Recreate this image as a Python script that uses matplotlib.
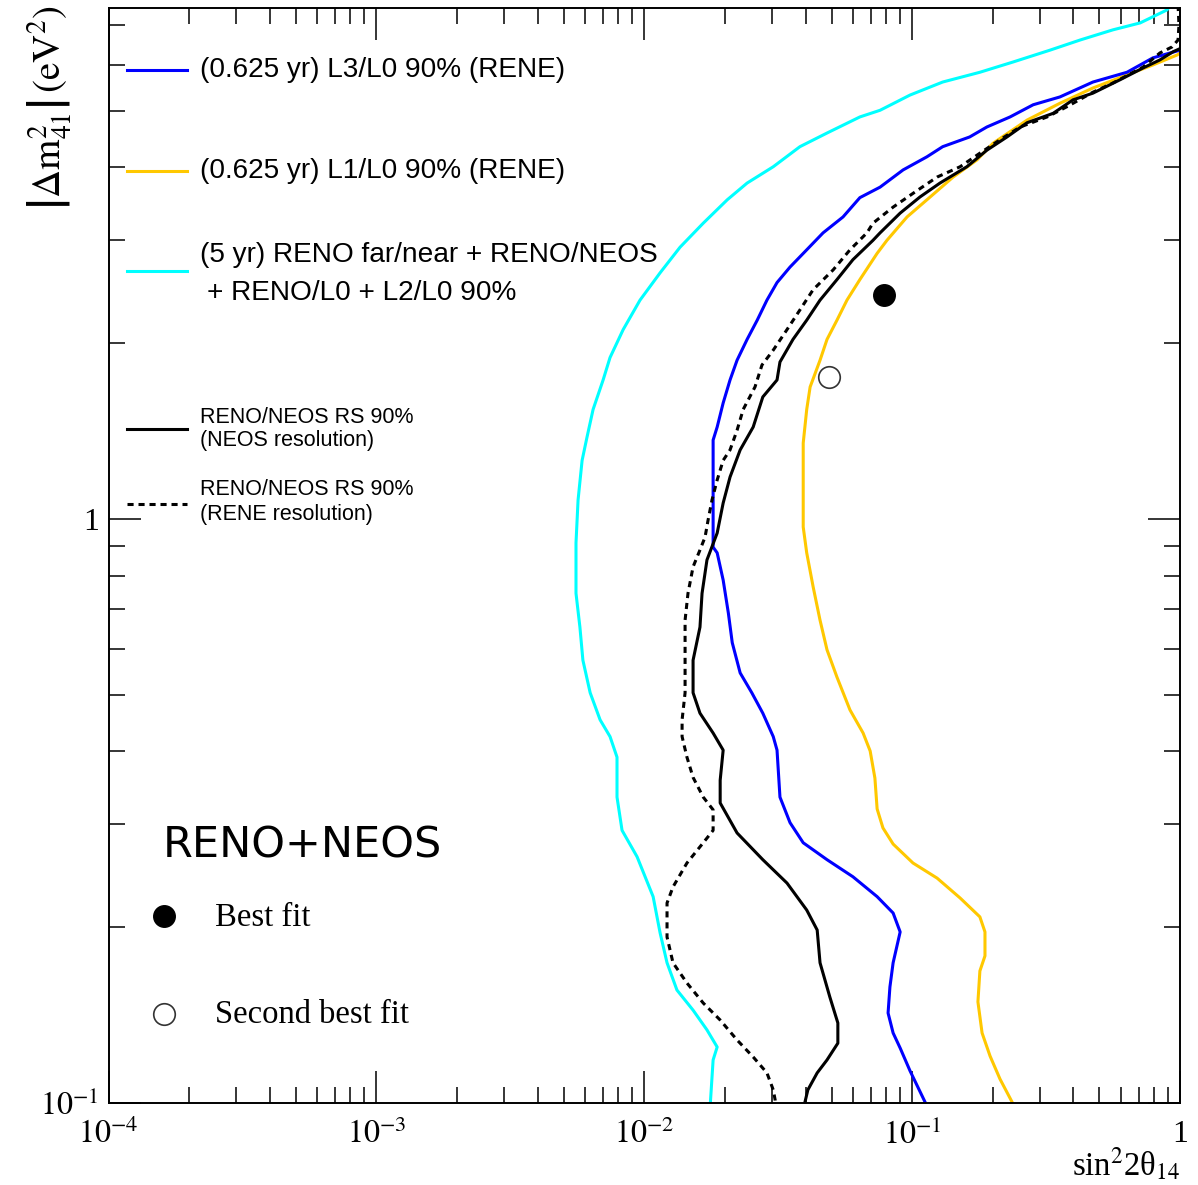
import numpy as np
import matplotlib
matplotlib.use("Agg")
import matplotlib.pyplot as plt
from matplotlib.lines import Line2D
from matplotlib.ticker import NullFormatter, LogLocator

plt.rcParams["mathtext.fontset"] = "stix"
plt.rcParams["font.family"] = ["Liberation Serif", "DejaVu Serif"]

# 90% CL contours: sin^2(2theta14) vs |dm41^2| (eV^2)
cyan_dm2 = [7.74, 7.44, 7.07, 6.88, 6.61, 6.35, 6.06, 5.82, 5.60, 5.32, 5.01, 4.88,
            4.58, 4.34, 4.01, 3.76, 3.52, 3.21, 2.92, 2.64, 2.37, 2.11, 1.89, 1.73,
            1.54, 1.38, 1.26, 1.078, 0.910, 0.746, 0.653, 0.573, 0.504, 0.453, 0.424,
            0.391, 0.334, 0.293, 0.264, 0.2256, 0.1954, 0.1738, 0.1561, 0.1442,
            0.1334, 0.1247, 0.1185, 0.0973]
cyan_sin = [0.957, 0.893, 0.710, 0.562, 0.424, 0.327, 0.238, 0.179, 0.130, 0.0982,
            0.0759, 0.0638, 0.0481, 0.0381, 0.0303, 0.0242, 0.0204, 0.0166, 0.0136,
            0.01146, 0.00964, 0.00834, 0.00745, 0.00702, 0.00644, 0.00611, 0.00586,
            0.00566, 0.00556, 0.00556, 0.00575, 0.00590, 0.00628, 0.00684, 0.00745,
            0.00791, 0.00791, 0.00826, 0.00940, 0.01079, 0.01146, 0.01216, 0.01324,
            0.01521, 0.01714, 0.01871, 0.01807, 0.01758]

blue_dm2 = [6.45, 6.35, 6.16, 5.82, 5.60, 5.28, 5.12, 4.88, 4.69, 4.51, 4.34, 4.17,
            3.96, 3.70, 3.55, 3.29, 3.09, 2.89, 2.70, 2.54, 2.37, 2.19, 2.03, 1.87,
            1.73, 1.58, 1.437, 1.365, 1.134, 0.895, 0.875, 0.786, 0.690, 0.614, 0.545,
            0.504, 0.465, 0.424, 0.402, 0.334, 0.302, 0.279, 0.261, 0.244, 0.2256,
            0.2115, 0.1963, 0.1738, 0.158, 0.1426, 0.1318, 0.1242, 0.1135, 0.1004, 0.0973]
blue_sin = [1.044, 1.000, 0.792, 0.634, 0.473, 0.356, 0.283, 0.232, 0.190, 0.164,
            0.130, 0.1135, 0.0925, 0.0759, 0.0638, 0.0552, 0.0465, 0.0404, 0.0350,
            0.0313, 0.0287, 0.0264, 0.0242, 0.0222, 0.0209, 0.0197, 0.01871, 0.01807,
            0.01807, 0.01807, 0.01871, 0.0197, 0.0206, 0.0213, 0.0228, 0.0252, 0.0277,
            0.0303, 0.0313, 0.0321, 0.0350, 0.0392, 0.0481, 0.0601, 0.0740, 0.0849,
            0.0902, 0.0849, 0.0826, 0.0813, 0.0849, 0.0902, 0.0982, 0.1117, 0.1146]

yellow_dm2 = [6.31, 6.23, 5.99, 5.76, 5.47, 5.15, 4.82, 4.40, 4.12, 3.85, 3.52, 3.29,
              3.00, 2.85, 2.57, 2.37, 2.19, 2.03, 1.87, 1.683, 1.54, 1.349, 0.969,
              0.875, 0.765, 0.671, 0.597, 0.536, 0.471, 0.430, 0.4006, 0.360, 0.3188,
              0.2958, 0.2776, 0.2576, 0.2427, 0.2244, 0.2083, 0.1963, 0.1786, 0.1683,
              0.149, 0.1318, 0.1203, 0.1099, 0.1004, 0.0973]
yellow_sin = [1.016, 0.975, 0.792, 0.634, 0.473, 0.356, 0.2685, 0.2005, 0.1746, 0.1422,
              0.1135, 0.0957, 0.0805, 0.0740, 0.0638, 0.0571, 0.0524, 0.0481, 0.0453,
              0.0416, 0.0404, 0.0392, 0.0392, 0.0404, 0.0427, 0.0453, 0.0481, 0.0524,
              0.0586, 0.0656, 0.0697, 0.0726, 0.0740, 0.0778, 0.0849, 0.1007, 0.1239,
              0.151, 0.179, 0.187, 0.187, 0.179, 0.176, 0.1824, 0.1954, 0.2128, 0.236, 0.242]

neos_dm2 = [6.41, 6.31, 6.11, 5.92, 5.65, 5.36, 5.22, 4.95, 4.77, 4.51, 4.28, 4.01,
            3.76, 3.56, 3.34, 3.09, 3.00, 2.78, 2.57, 2.37, 2.19, 2.03, 1.857, 1.73,
            1.618, 1.437, 1.313, 1.180, 1.065, 0.946, 0.851, 0.746, 0.653, 0.573, 0.504,
            0.465, 0.430, 0.402, 0.357, 0.3264, 0.290, 0.261, 0.238, 0.214, 0.1978,
            0.1738, 0.1518, 0.1371, 0.1266, 0.1185, 0.1126, 0.1053, 0.1004, 0.0973]
neos_sin = [1.016, 0.942, 0.841, 0.728, 0.597, 0.473, 0.3985, 0.336, 0.2685, 0.226,
            0.190, 0.160, 0.127, 0.107, 0.0902, 0.0759, 0.0714, 0.0601, 0.0524, 0.0453,
            0.0404, 0.0359, 0.0321, 0.0313, 0.0277, 0.0255, 0.0228, 0.0209, 0.0197,
            0.01871, 0.01714, 0.01643, 0.01614, 0.01521, 0.01521, 0.01614, 0.01807,
            0.0197, 0.0192, 0.0192, 0.0222, 0.0277, 0.0341, 0.0404, 0.0442, 0.0453,
            0.0493, 0.0528, 0.0528, 0.0481, 0.0442, 0.0408, 0.0398, 0.0394]

rene_dm2 = [7.59, 7.01, 6.61, 6.43, 6.28, 5.94, 5.58, 5.38, 5.08, 4.88, 4.69, 4.46,
            4.23, 4.01, 3.85, 3.61, 3.42, 3.21, 3.09, 2.89, 2.67, 2.47, 2.28, 2.11,
            1.946, 1.835, 1.683, 1.54, 1.419, 1.313, 1.26, 1.166, 1.078, 0.995, 0.931,
            0.885, 0.828, 0.746, 0.671, 0.573, 0.504, 0.453, 0.424, 0.391, 0.361, 0.334,
            0.3177, 0.293, 0.279, 0.2576, 0.2344, 0.220, 0.1924, 0.1738, 0.1605, 0.1483,
            0.1387, 0.1282, 0.1199, 0.1126, 0.1053, 0.1012, 0.0973]
rene_sin = [0.983, 0.991, 0.983, 0.933, 0.841, 0.728, 0.562, 0.473, 0.378, 0.319,
            0.253, 0.2128, 0.179, 0.151, 0.1239, 0.1007, 0.0849, 0.0714, 0.0678, 0.0586,
            0.0507, 0.0427, 0.0381, 0.0341, 0.0303, 0.0275, 0.0259, 0.0234, 0.0222,
            0.0209, 0.0197, 0.01871, 0.0179, 0.0173, 0.01686, 0.01614, 0.01521, 0.01456,
            0.0142, 0.0142, 0.0142, 0.01384, 0.01384, 0.01443, 0.01521, 0.0166, 0.01807,
            0.01807, 0.0166, 0.01443, 0.0128, 0.01216, 0.01216, 0.0128, 0.01443, 0.0166,
            0.0192, 0.0222, 0.0255, 0.0287, 0.0303, 0.0308, 0.0310]

best_fit = (0.0784, 2.42)
second_fit = (0.0488, 1.75)

xticks = [1e-4, 1e-3, 1e-2, 1e-1, 1]
xtick_labels = [r"$10^{-4}$", r"$10^{-3}$", r"$10^{-2}$", r"$10^{-1}$", "1"]
yticks = [0.1, 1]
ytick_labels = [r"$10^{-1}$", "1"]

BLUE = "#0000ff"
YELLOW = "#ffc800"
CYAN = "#00ffff"

fig = plt.figure(figsize=(11.98, 11.85), dpi=100)
ax = fig.add_axes([0.0906, 0.0692, 0.8944, 0.9241])

lw = 2.2
ax.plot(cyan_sin, cyan_dm2, color=CYAN, lw=lw)
ax.plot(yellow_sin, yellow_dm2, color=YELLOW, lw=lw)
ax.plot(blue_sin, blue_dm2, color=BLUE, lw=lw)
ax.plot(neos_sin, neos_dm2, color="black", lw=lw)
ax.plot(rene_sin, rene_dm2, color="black", lw=lw, linestyle=(0, (2.0, 1.6)))

ax.plot(*best_fit, "o", ms=15.5, color="black")
ax.plot(*second_fit, "o", ms=15.5, mfc="white", mec="#333333", mew=1.2)

ax.set_xscale("log")
ax.set_yscale("log")
ax.set_xlim(1e-4, 1)
ax.set_ylim(0.1, 7.5)
ax.set_xticks(xticks, xtick_labels)
ax.set_yticks(yticks, ytick_labels)
ax.xaxis.set_minor_locator(LogLocator(base=10, subs=np.arange(2, 10), numticks=20))
ax.yaxis.set_minor_locator(LogLocator(base=10, subs=np.arange(2, 10), numticks=20))
ax.xaxis.set_minor_formatter(NullFormatter())
ax.yaxis.set_minor_formatter(NullFormatter())
ax.tick_params(which="both", direction="in", top=True, right=True, width=1.1,
               labelsize=23)
ax.tick_params(which="major", length=23)
ax.tick_params(which="minor", length=11.5)
ax.tick_params(axis="x", pad=12)
ax.tick_params(axis="y", pad=7)
for s in ax.spines.values():
    s.set_linewidth(1.4)

ax.set_xlabel(r"sin$^{2}$2θ$_{14}$", fontsize=23.5, ha="right")
ax.xaxis.set_label_coords(1.0, -0.0395)
ylab = ax.set_ylabel(r"$\left|\Delta\mathrm{m}^{2}_{41}\right|\,\mathrm{(eV^{2})}$",
                     fontsize=28)
ylab.set_rotation_mode("default")
ylab.set_ha("center")
ylab.set_va("top")
ax.yaxis.set_label_coords(-0.056, 1.002)

# legend, drawn in axes coordinates
sans = ["Liberation Sans", "DejaVu Sans"]
kx0, kx1, tx = 0.0173, 0.0733, 0.0854
big = 20.2
small = 15.5
keys = [
    (0.9434, BLUE, "-"),
    (0.8511, YELLOW, "-"),
    (0.7598, CYAN, "-"),
    (0.6155, "black", "-"),
    (0.5470, "black", (0, (2.0, 1.6))),
]
for ky, c, ls in keys:
    ax.add_line(Line2D([kx0, kx1], [ky, ky], color=c, lw=lw, ls=ls,
                       transform=ax.transAxes))
ax.text(tx, 0.9434, "(0.625 yr) L3/L0 90% (RENE)", transform=ax.transAxes,
        family=sans, fontsize=big, va="center")
ax.text(tx, 0.8511, "(0.625 yr) L1/L0 90% (RENE)", transform=ax.transAxes,
        family=sans, fontsize=big, va="center")
ax.text(tx, 0.7744, "(5 yr) RENO far/near + RENO/NEOS", transform=ax.transAxes,
        family=sans, fontsize=big, va="center")
ax.text(tx + 0.0065, 0.7397, "+ RENO/L0 + L2/L0 90%", transform=ax.transAxes,
        family=sans, fontsize=big, va="center")
ax.text(tx, 0.6256, "RENO/NEOS RS 90%", transform=ax.transAxes,
        family=sans, fontsize=small, va="center")
ax.text(tx, 0.6046, "(NEOS resolution)", transform=ax.transAxes,
        family=sans, fontsize=small, va="center")
ax.text(tx, 0.5598, "RENO/NEOS RS 90%", transform=ax.transAxes,
        family=sans, fontsize=small, va="center")
ax.text(tx, 0.5370, "(RENE resolution)", transform=ax.transAxes,
        family=sans, fontsize=small, va="center")

ax.text(0.0509, 0.2356, "RENO+NEOS", transform=ax.transAxes,
        family=["DejaVu Sans"], fontsize=31, va="center")
ax.add_line(Line2D([0.0518], [0.1708], marker="o", ms=15.5, color="black",
                   transform=ax.transAxes))
ax.add_line(Line2D([0.0518], [0.0813], marker="o", ms=15.5, mfc="white",
                   mec="#333333", mew=1.2, transform=ax.transAxes))
ax.text(0.0994, 0.1689, "Best fit", transform=ax.transAxes, fontsize=23.5,
        va="center")
ax.text(0.0994, 0.0804, "Second best fit", transform=ax.transAxes, fontsize=23.5,
        va="center")

fig.savefig("out.png", dpi=100)
